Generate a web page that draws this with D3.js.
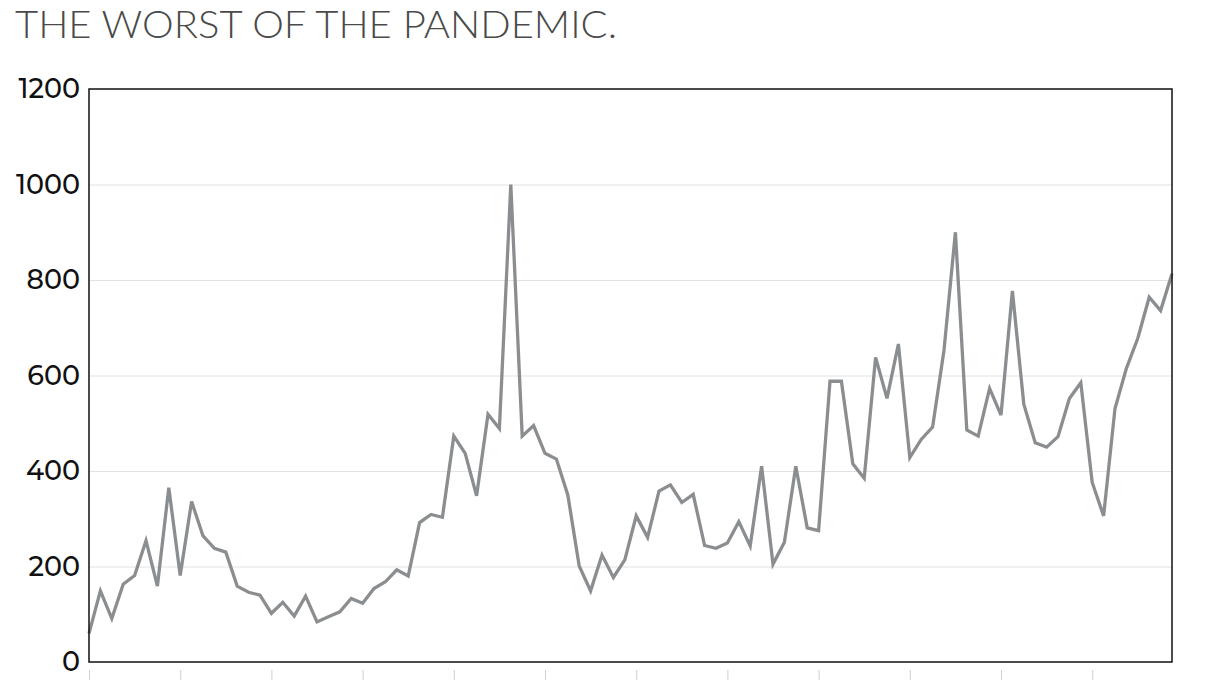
<!DOCTYPE html>
<html>
<head>
<meta charset="utf-8">
<script src="https://cdn.jsdelivr.net/npm/d3@7"></script>
<style>
  html, body { margin: 0; padding: 0; background: #fff; }
  svg { display: block; }
</style>
</head>
<body>
<svg id="chart" width="1226" height="690"></svg>
<script>
const title = "THE WORST OF THE PANDEMIC.";
const yTicks = [0, 200, 400, 600, 800, 1000, 1200];
const values = [
  60, 149, 91, 163, 181, 254, 159, 365, 181, 336,
  264, 238, 230, 159, 146, 140, 102, 125, 96, 138,
  84, 95, 105, 133, 123, 154, 168, 193, 180, 292,
  309, 303, 473, 437, 348, 519, 489, 1000, 473, 495,
  437, 425, 350, 201, 149, 224, 177, 214, 306, 261,
  358, 371, 334, 351, 244, 238, 249, 294, 243, 410,
  205, 251, 410, 281, 275, 588, 588, 415, 385, 638,
  552, 666, 428, 466, 492, 653, 900, 486, 473, 573,
  517, 777, 540, 459, 450, 472, 552, 585, 376, 306,
  531, 615, 678, 764, 736, 813
];
const xTickIndices = [0, 8, 16, 24, 32, 40, 48, 56, 64, 72, 80, 88];

const svg = d3.select("#chart");
const mLeft = 89, mRight = 1172, mTop = 89, mBottom = 662;

const x = d3.scaleLinear().domain([0, values.length - 1]).range([mLeft, mRight]);
const y = d3.scaleLinear().domain([0, 1200]).range([mBottom, mTop]);

// title
svg.append("text")
  .attr("x", 15).attr("y", 38)
  .attr("font-family", "Lato, 'Open Sans', sans-serif")
  .attr("font-weight", 300)
  .attr("font-size", 38)
  .attr("fill", "#4a4a4a")
  .attr("textLength", 602)
  .attr("lengthAdjust", "spacingAndGlyphs")
  .text(title);

// gridlines
svg.append("g")
  .attr("transform", `translate(${mLeft},0)`)
  .call(d3.axisLeft(y).tickValues(yTicks.filter(d => d > 0 && d < 1200)).tickSize(-(mRight - mLeft)).tickFormat(""))
  .call(g => g.select(".domain").remove())
  .call(g => g.selectAll("line").attr("stroke", "#e2e2e2").attr("stroke-width", 1));

// y labels
svg.append("g")
  .attr("transform", `translate(${mLeft},0)`)
  .call(d3.axisLeft(y).tickValues(yTicks).tickSize(0).tickPadding(9).tickFormat(d3.format("d")))
  .call(g => g.select(".domain").remove())
  .call(g => g.selectAll("text")
    .attr("font-family", "Montserrat, Lato, 'Open Sans', sans-serif")
    .attr("font-size", 27)
    .attr("font-weight", 500)
    .attr("fill", "#111"));

// x ticks (below the frame)
svg.append("g")
  .attr("transform", `translate(0,${mBottom + 8})`)
  .call(d3.axisBottom(x).tickValues(xTickIndices).tickSize(10).tickFormat(""))
  .call(g => g.select(".domain").remove())
  .call(g => g.selectAll("line").attr("stroke", "#d0d0d0").attr("stroke-width", 1));

// line
const line = d3.line().x((d, i) => x(i)).y(d => y(d));
svg.append("path")
  .datum(values)
  .attr("fill", "none")
  .attr("stroke", "#8b8e91")
  .attr("stroke-width", 3.3)
  .attr("stroke-linejoin", "miter")
  .attr("d", line);

// frame
svg.append("rect")
  .attr("x", mLeft).attr("y", mTop)
  .attr("width", mRight - mLeft).attr("height", mBottom - mTop)
  .attr("fill", "none")
  .attr("stroke", "#111")
  .attr("stroke-width", 1.5);
</script>
</body>
</html>
